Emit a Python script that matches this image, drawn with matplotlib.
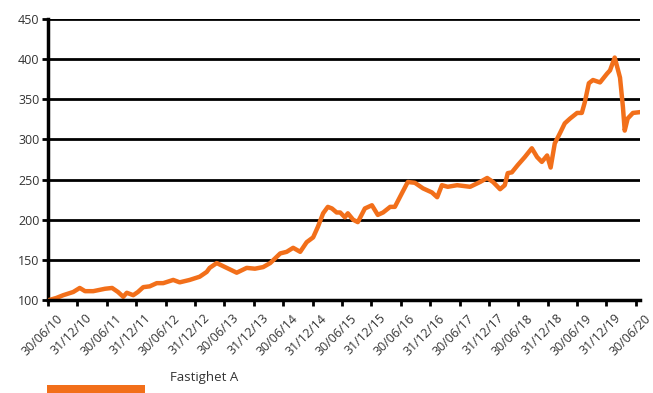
import matplotlib.pyplot as plt
from matplotlib.patches import Rectangle
from matplotlib.transforms import ScaledTranslation

# time as decimal year, index value (start = 100)
years = [2010.52, 2010.64, 2010.76, 2010.93, 2011.04, 2011.13, 2011.27, 2011.47, 2011.59, 2011.69,
         2011.78, 2011.84, 2011.95, 2012.03, 2012.12, 2012.23, 2012.35, 2012.46, 2012.63, 2012.74,
         2012.91, 2013.08, 2013.20, 2013.25, 2013.37, 2013.54, 2013.71, 2013.88, 2014.02, 2014.16,
         2014.28, 2014.45, 2014.56, 2014.67, 2014.79, 2014.90, 2015.01, 2015.09, 2015.18, 2015.26,
         2015.33, 2015.41, 2015.47, 2015.55, 2015.60, 2015.69, 2015.77, 2015.89, 2016.01, 2016.11,
         2016.20, 2016.32, 2016.40, 2016.52, 2016.62, 2016.74, 2016.88, 2017.03, 2017.12, 2017.20,
         2017.30, 2017.46, 2017.68, 2017.85, 2017.97, 2018.07, 2018.19, 2018.27, 2018.32, 2018.39,
         2018.49, 2018.61, 2018.73, 2018.82, 2018.90, 2018.99, 2019.05, 2019.12, 2019.21, 2019.29,
         2019.38, 2019.50, 2019.58, 2019.63, 2019.70, 2019.77, 2019.89, 2020.01, 2020.06, 2020.14,
         2020.23, 2020.28, 2020.31, 2020.36, 2020.45, 2020.57]
values = [100, 102.5, 106, 110, 115, 111, 111, 114, 115, 110,
          104, 109, 106, 110, 116, 117, 121, 121, 125, 122,
          125, 129, 135, 140, 146, 140, 134, 140, 139, 141,
          146, 158, 160, 165, 160, 172, 178, 191, 208, 216,
          214, 209, 209, 203, 208, 200, 197, 214, 218, 206,
          209, 216, 216, 233, 247, 246, 239, 234, 228, 243,
          241, 243, 241, 247, 252, 247, 238, 243, 258, 259,
          268, 278, 289, 278, 272, 280, 265, 295, 308, 320,
          326, 333, 333, 346, 370, 374, 371, 382, 386, 402,
          377, 340, 311, 326, 333, 334]

tick_pos = [2010.5 + 0.5 * i for i in range(21)]
tick_labels = []
for i in range(21):
    yy = 10 + i // 2
    tick_labels.append(("30/06/%02d" if i % 2 == 0 else "31/12/%02d") % yy)

yticks = [100, 150, 200, 250, 300, 350, 400, 450]
series_name = "Fastighet A"
orange = "#F26F1A"

plt.rcParams['font.family'] = ['Open Sans', 'DejaVu Sans']

fig = plt.figure(figsize=(6.53, 3.93), dpi=100)
ax = fig.add_axes([48 / 653, 1 - 300 / 393, 592 / 653, 281 / 393])

for yv in yticks[1:]:
    ax.axhline(yv, color="black", lw=2, zorder=1)

ax.plot(years, values, color=orange, lw=3.2, solid_joinstyle="round", zorder=3)

ax.set_xlim(2010.5, 2020.57)
ax.set_ylim(100, 450)
ax.set_yticks(yticks)
ax.set_xticks(tick_pos)
ax.set_xticklabels(tick_labels, rotation=45, ha="right", rotation_mode="anchor")
ax.tick_params(axis="x", length=4, width=2, labelsize=9, colors="black", labelcolor="#333333", pad=3)
ax.tick_params(axis="y", length=4, width=2, labelsize=9, labelcolor="#333333", pad=2)

# labels in the reference sit a bit right of their ticks
shift = ScaledTranslation(8 / 100, -2 / 100, fig.dpi_scale_trans)
for lab in ax.get_xticklabels():
    lab.set_transform(lab.get_transform() + shift)

for s in ["top", "right"]:
    ax.spines[s].set_visible(False)
for s in ["left", "bottom"]:
    ax.spines[s].set_linewidth(2.5)
    ax.spines[s].set_color("black")
ax.spines["bottom"].set_zorder(4)

# legend
fig.add_artist(Rectangle((47 / 653, 0), 98 / 653, 8 / 393, transform=fig.transFigure,
                         facecolor=orange, edgecolor="none"))
fig.text(170 / 653, 1 - 378 / 393, series_name, fontsize=9.5, color="#333333", va="center")

fig.savefig("out.png", dpi=100)
